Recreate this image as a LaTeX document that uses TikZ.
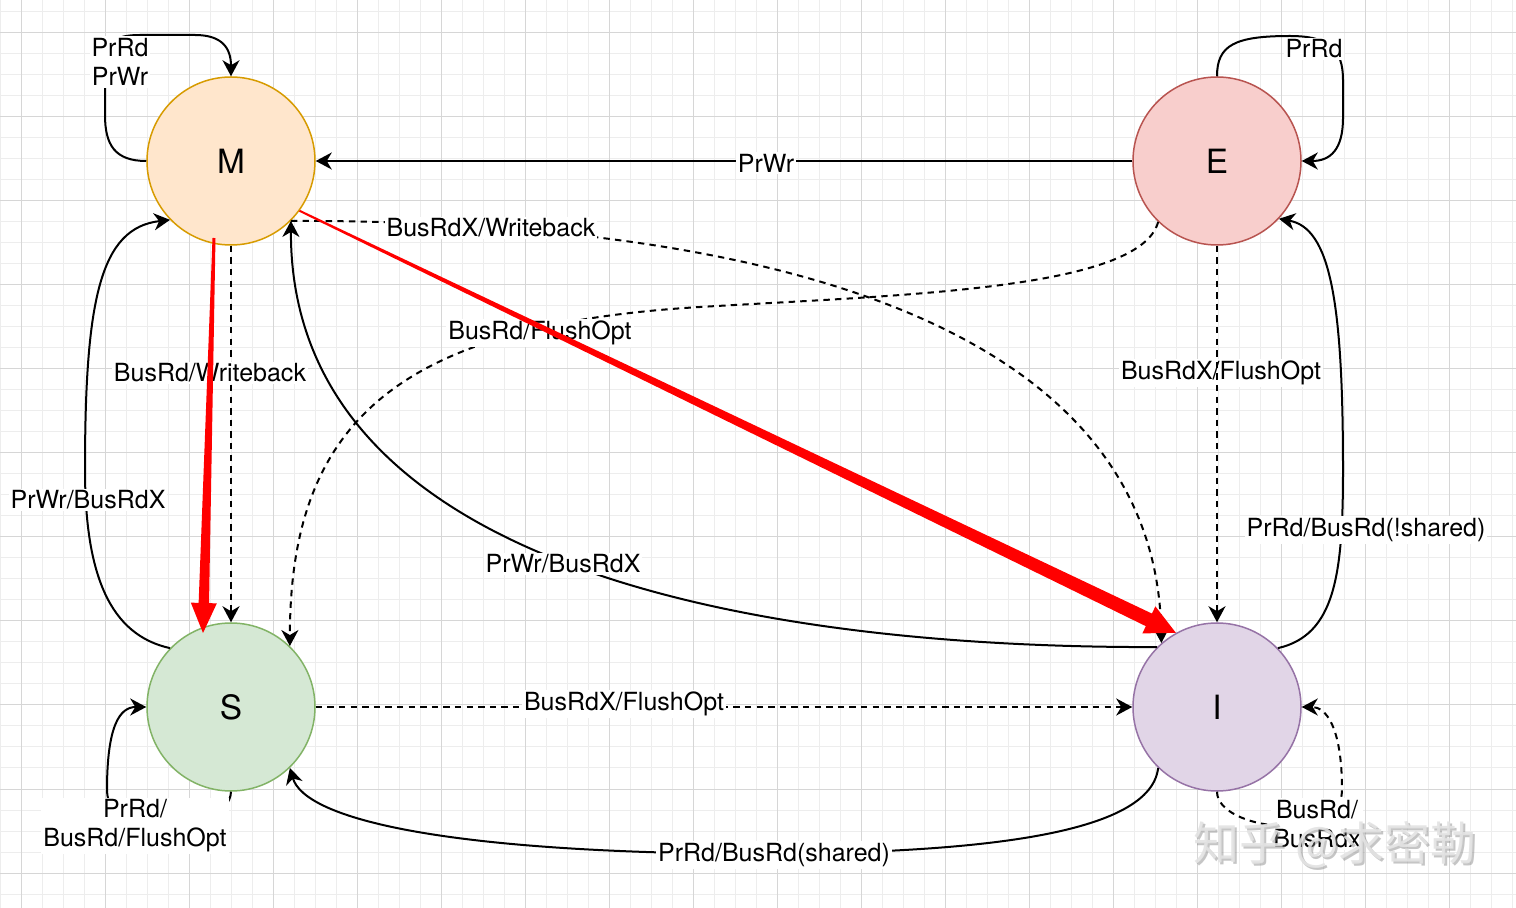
\documentclass[tikz,border=0pt]{standalone}
\usepackage{fontspec}
\setmainfont{TeX Gyre Heros}
\newfontfamily\cjkfont{Noto Sans CJK SC}
\usetikzlibrary{arrows.meta,calc}
\definecolor{mfill}{HTML}{FFE6CC}\definecolor{mline}{HTML}{D79B00}
\definecolor{efill}{HTML}{F8CECC}\definecolor{eline}{HTML}{B85450}
\definecolor{sfill}{HTML}{D5E8D4}\definecolor{sline}{HTML}{82B366}
\definecolor{ifill}{HTML}{E1D5E7}\definecolor{iline}{HTML}{9673A6}
\definecolor{gminorc}{HTML}{EDEDED}\definecolor{gmajorc}{HTML}{D6D6D6}
\definecolor{redarrow}{HTML}{FF0000}
\begin{document}
\begin{tikzpicture}[x=0.5pt,y=-0.5pt,
  state/.style={circle,draw,line width=0.75pt,minimum size=84pt,inner sep=0pt,font=\fontsize{16.7}{20}\selectfont},
  lbl/.style={fill=white,inner sep=1pt,font=\fontsize{12.5}{14.5}\selectfont,align=center},
  edge/.style={line width=1pt,-{Stealth[length=8pt,width=8.5pt,inset=2.5pt]}},
  dsh/.style={dash pattern=on 3.2pt off 2.6pt},
  gminor/.style={draw=gminorc,line width=0.5pt},
  gmajor/.style={draw=gmajorc,line width=0.5pt},
  wmark/.style={font=\cjkfont\fontsize{23}{23}\selectfont}
]
\useasboundingbox (0,0) rectangle (1516,908);
\fill[white] (0,0) rectangle (1516,908);
% grid
\foreach \x in {0,21,...,1512} \draw[gminor] (\x,0) -- (\x,908);
\foreach \y in {12,33,...,900} \draw[gminor] (0,\y) -- (1516,\y);
\foreach \x in {21,105,...,1500} \draw[gmajor] (\x,0) -- (\x,908);
\foreach \y in {33,117,...,900} \draw[gmajor] (0,\y) -- (1516,\y);

% states
\node[state,fill=mfill,draw=mline] (M) at (231,161) {M};
\node[state,fill=efill,draw=eline] (E) at (1217,161) {E};
\node[state,fill=sfill,draw=sline] (S) at (231,707) {S};
\node[state,fill=ifill,draw=iline] (I) at (1217,707) {I};

% edges
\draw[edge] (M.west) .. controls (115,161) and (105,145) .. (105,115) -- (105,65) .. controls (105,42) and (115,35) .. (140,35) -- (195,35) .. controls (222,35) and (231,48) .. (M.north);
\draw[edge] (E.north) .. controls (1217,45) and (1235,36) .. (1290,36) .. controls (1330,36) and (1343,50) .. (1343,80) -- (1343,118) .. controls (1343,150) and (1330,161) .. (E.east);
\draw[edge] (E.west) -- (M.east);
\draw[edge,dsh] (M.-45) .. controls (850,220) and (1157,360) .. (I.131);
\draw[edge,dsh] (M.south) -- (S.north);
\draw[edge] (S.136) .. controls (110,635) and (85,575) .. (85,470) .. controls (85,300) and (100,228) .. (M.-136);
\draw[edge] (I.135) .. controls (760,648) and (290,570) .. (M.-45);
\draw[edge,dsh] (E.-134) .. controls (1140,290) and (900,295) .. (700,307) .. controls (400,325) and (290,420) .. (S.46);
\draw[edge] (I.44) .. controls (1335,635) and (1343,575) .. (1343,470) .. controls (1343,300) and (1330,228) .. (E.-43);
\draw[edge,dsh] (S.east) -- (I.west);
\draw[edge] (I.226) .. controls (1150,840) and (950,852) .. (774,854) .. controls (450,854) and (305,820) .. (S.-46);
\draw[edge] (S.south) .. controls (229,835) and (107,845) .. (107,790) .. controls (107,725) and (120,707) .. (S.west);
\draw[edge,dsh] (I.south) .. controls (1217,830) and (1342,845) .. (1342,790) .. controls (1342,725) and (1325,707) .. (I.east);

% labels
\node[lbl] (lMM) at (120,62) {PrRd\\PrWr};
\node[lbl] (lEE) at (1314,49) {PrRd};
\node[lbl] (lEM) at (766,163) {PrWr};
\node[lbl] (lMI) at (491,228) {BusRdX/Writeback};
\node[lbl] (lES) at (540,333) {BusRd/FlushOpt};
\node[lbl] (lMS) at (210,373) {BusRd/Writeback};
\node[lbl] (lEI) at (1221,373) {BusRdX/FlushOpt};
\node[lbl] (lSM) at (88,500) {PrWr/BusRdX};
\node[lbl] (lIM) at (563,564) {PrWr/BusRdX};
\node[lbl] (lIE) at (1366,530) {PrRd/BusRd(!shared)};
\node[lbl] (lSI) at (624,704) {BusRdX/FlushOpt};
\node[lbl] (lIS) at (774,855) {PrRd/BusRd(shared)};
\node[lbl] (lSS) at (135,826) {PrRd/\\BusRd/FlushOpt};
\node[lbl] (lII) at (1317,824) {BusRd/\\BusRdx};

% E -> I dashed drawn over its label
\draw[edge,dsh] (E.south) -- (I.north);

% red tapered arrows
\coordinate (ra1) at ($(M.center)+(-17,77)$);
\coordinate (rt1) at ($(S.center)+(-28,-74)$);
\coordinate (rb1) at ($(rt1)!15pt!(ra1)$);
\fill[redarrow] ($(ra1)!0.75pt!90:(rt1)$) -- ($(rb1)!2.6pt!-90:(ra1)$) -- ($(rb1)!6.5pt!-90:(ra1)$) -- (rt1) -- ($(rb1)!6.5pt!90:(ra1)$) -- ($(rb1)!2.6pt!90:(ra1)$) -- ($(ra1)!0.75pt!-90:(rt1)$) -- cycle;
\coordinate (ra2) at (M.-36);
\coordinate (rt2) at (I.119);
\coordinate (rb2) at ($(rt2)!15pt!(ra2)$);
\fill[redarrow] ($(ra2)!0.5pt!90:(rt2)$) -- ($(rb2)!3.5pt!-90:(ra2)$) -- ($(rb2)!7.5pt!-90:(ra2)$) -- (rt2) -- ($(rb2)!7.5pt!90:(ra2)$) -- ($(rb2)!3.5pt!90:(ra2)$) -- ($(ra2)!0.5pt!-90:(rt2)$) -- cycle;

% watermark
\node[wmark,text=gray,opacity=0.45] (wms) at (1337,847) {知乎 @求密勒};
\node[wmark,text=white!78!gray,opacity=0.9] (wm) at (1335,845) {知乎 @求密勒};
\end{tikzpicture}
\end{document}
